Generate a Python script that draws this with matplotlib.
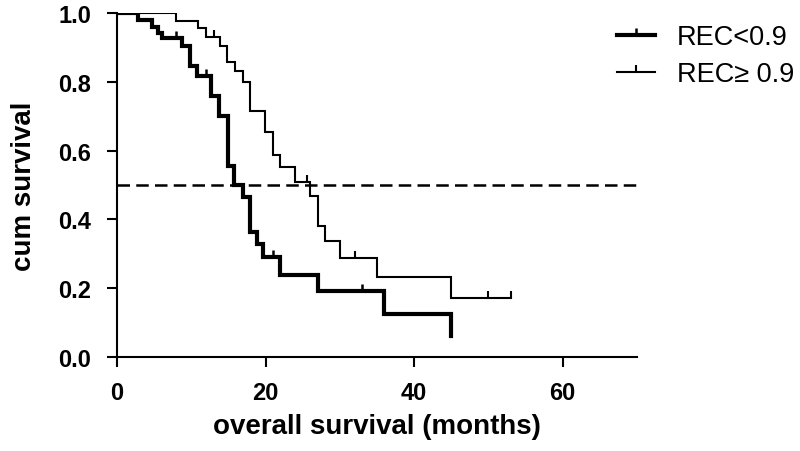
import matplotlib
matplotlib.use("Agg")
import matplotlib.pyplot as plt
from matplotlib.path import Path
from matplotlib.lines import Line2D

plt.rcParams['font.family'] = ['Liberation Sans', 'DejaVu Sans']

# Kaplan-Meier step data (months, cumulative survival)
low_times = [0, 2.8, 4.7, 5.5, 6.1, 8.7, 9.8, 10.8, 12.7, 13.7, 14.9, 15.8, 16.9,
             17.9, 18.8, 19.7, 21.9, 27.1, 35.9, 45.0]
low_surv = [1.0, 0.98, 0.96, 0.942, 0.926, 0.905, 0.847, 0.818, 0.76, 0.70, 0.556,
            0.50, 0.464, 0.363, 0.329, 0.29, 0.238, 0.192, 0.125, 0.062]
low_cens_t = [8.0, 12.0, 21.0, 33.0]
low_cens_s = [0.926, 0.818, 0.29, 0.192]

high_times = [0, 8.0, 10.9, 12.0, 13.9, 14.8, 15.9, 17.0, 17.9, 19.9, 21.0, 21.9,
              24.0, 26.0, 27.0, 28.0, 30.0, 35.0, 45.0, 53.0]
high_surv = [1.0, 0.978, 0.957, 0.93, 0.905, 0.857, 0.832, 0.80, 0.716, 0.655, 0.588,
             0.553, 0.51, 0.469, 0.382, 0.338, 0.287, 0.232, 0.172, 0.172]
high_cens_t = [13.0, 25.6, 32.0, 50.0, 53.0]
high_cens_s = [0.93, 0.51, 0.287, 0.172, 0.172]

labels = ["REC<0.9", "REC\u2265 0.9"]
median_level = 0.5
x_ticks = [0, 20, 40, 60]
y_ticks = [0.0, 0.2, 0.4, 0.6, 0.8, 1.0]

tick_marker = Path([(0, 0), (0, 1)])

fig = plt.figure(figsize=(8.0, 4.52), dpi=100)
ax = fig.add_axes([117/800, (452-358)/452, 520/800, 344/452])

ax.step(low_times, low_surv, where='post', color='black', lw=3.0, solid_joinstyle='miter')
ax.step(high_times, high_surv, where='post', color='black', lw=1.5, solid_joinstyle='miter')
ax.plot(low_cens_t, low_cens_s, ls='none', marker=tick_marker, ms=10, mew=1.8, color='black')
ax.plot(high_cens_t, high_cens_s, ls='none', marker=tick_marker, ms=10, mew=1.5, color='black')
ax.axhline(median_level, color='black', lw=1.8, dashes=(5, 2.5))

ax.set_xlim(0, 70)
ax.set_ylim(0, 1.0)
ax.set_xticks(x_ticks)
ax.set_yticks(y_ticks)
ax.set_yticklabels([f"{v:.1f}" for v in y_ticks])
for s in ['top', 'right']:
    ax.spines[s].set_visible(False)
for s in ['left', 'bottom']:
    ax.spines[s].set_linewidth(1.5)
ax.tick_params(axis='both', direction='out', length=7.5, width=1.5, labelsize=17)
ax.tick_params(axis='x', pad=10)
ax.tick_params(axis='y', pad=11)
for lab in ax.get_xticklabels() + ax.get_yticklabels():
    lab.set_fontweight('bold')
ax.set_xlabel("overall survival (months)", fontsize=20, fontweight='bold', labelpad=6)
ax.set_ylabel("cum survival", fontsize=20, fontweight='bold', labelpad=15)

handles = [Line2D([0], [0], color='black', lw=3.0, marker=tick_marker, ms=10, mew=1.8),
           Line2D([0], [0], color='black', lw=1.5, marker=tick_marker, ms=10, mew=1.5)]
fig.legend(handles, labels, loc='upper left', bbox_to_anchor=(617/800, 1 - 25/452),
           frameon=False, fontsize=19.5, handlelength=1.4, handletextpad=0.8,
           labelspacing=0.41, borderpad=0, borderaxespad=0, markerfirst=True)

fig.savefig("out.png", dpi=100)
